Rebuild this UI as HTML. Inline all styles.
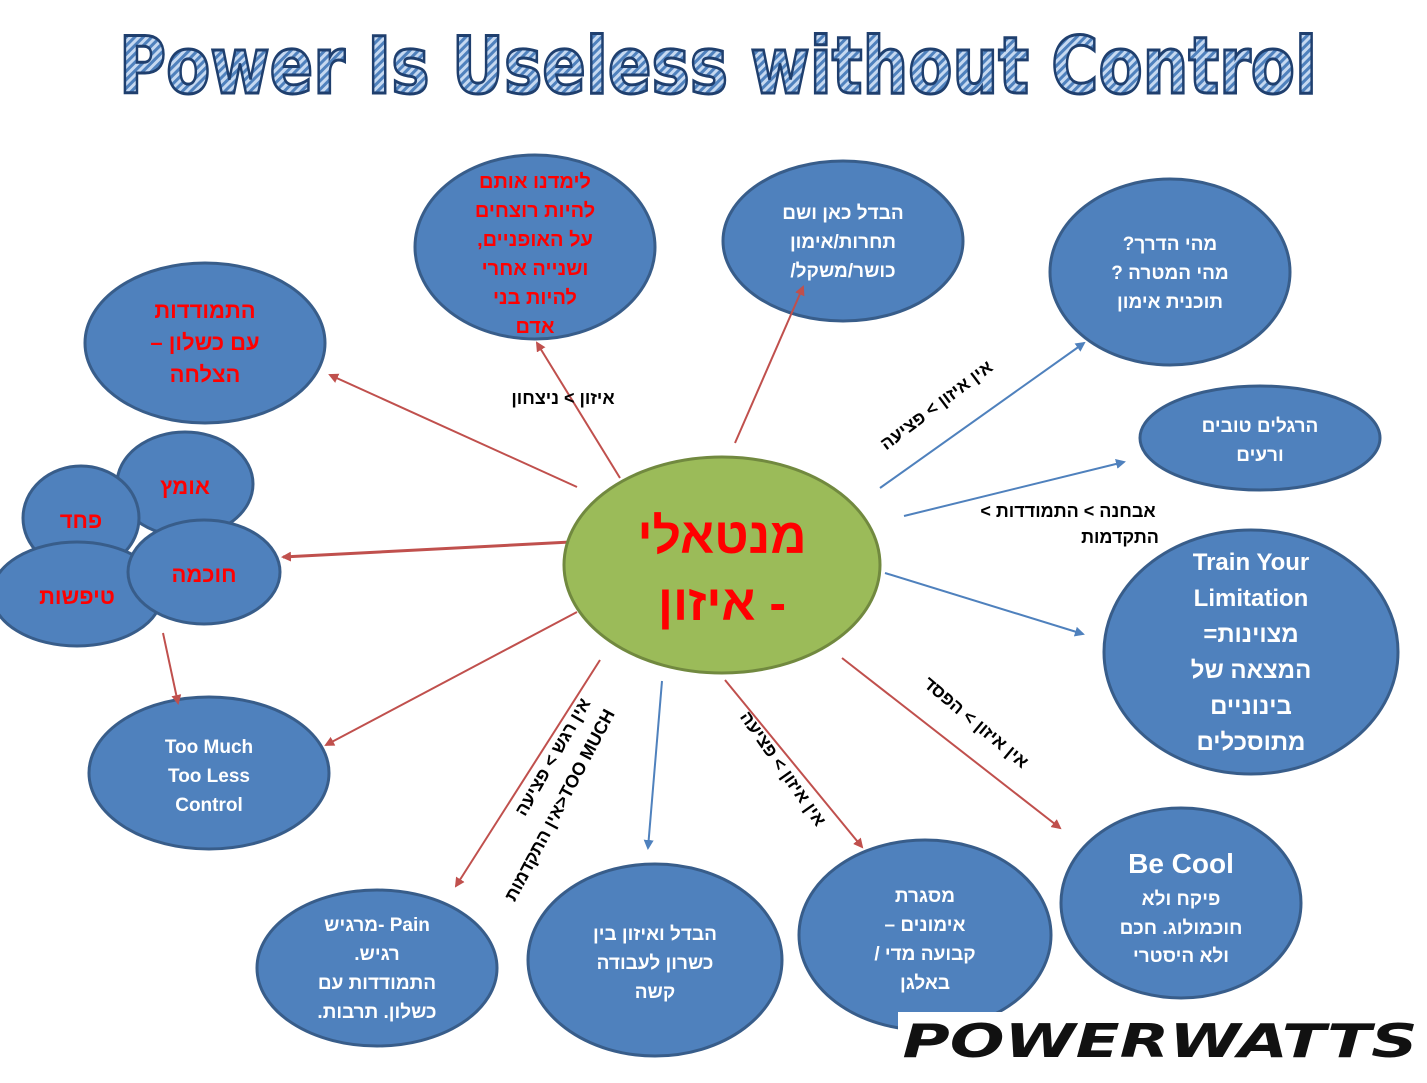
<!DOCTYPE html>
<html><head><meta charset="utf-8"><style>
html,body{margin:0;padding:0;background:#fff;}
svg{display:block;}
text{font-family:"Liberation Sans","DejaVu Sans",sans-serif;font-weight:bold;}
</style></head><body>
<svg width="1427" height="1083" viewBox="0 0 1427 1083" xmlns="http://www.w3.org/2000/svg">
<defs>
<pattern id="hatch" width="6" height="6" patternUnits="userSpaceOnUse" patternTransform="rotate(45)">
<rect width="6" height="6" fill="#c6d9f1"/><rect width="3" height="6" fill="#4f81bd"/>
</pattern>
<marker id="ar" markerWidth="10" markerHeight="10" refX="8" refY="5" orient="auto" markerUnits="userSpaceOnUse"><path d="M0,0 L10,5 L0,10 Z" fill="#c0504d"/></marker>
<marker id="ab" markerWidth="10" markerHeight="10" refX="8" refY="5" orient="auto" markerUnits="userSpaceOnUse"><path d="M0,0 L10,5 L0,10 Z" fill="#4f81bd"/></marker>
</defs>
<text x="718" y="93" text-anchor="middle" font-size="78" fill="url(#hatch)" stroke="#1f3f6e" stroke-width="3" style="font-family:'DejaVu Sans',sans-serif" textLength="1198" lengthAdjust="spacingAndGlyphs">Power Is Useless without Control</text>

<g fill="#4f81bd" stroke="#385d8a" stroke-width="3">
<ellipse cx="535" cy="247" rx="120" ry="92"/>
<ellipse cx="843" cy="241" rx="120" ry="80"/>
<ellipse cx="1170" cy="272" rx="120" ry="93"/>
<ellipse cx="1260" cy="438" rx="120" ry="52"/>
<ellipse cx="1251" cy="652" rx="147" ry="122"/>
<ellipse cx="1181" cy="903" rx="120" ry="95"/>
<ellipse cx="925" cy="935" rx="126" ry="95"/>
<ellipse cx="655" cy="960" rx="127" ry="96"/>
<ellipse cx="377" cy="968" rx="120" ry="78"/>
<ellipse cx="209" cy="773" rx="120" ry="76"/>
<ellipse cx="205" cy="343" rx="120" ry="80"/>
<ellipse cx="185" cy="484" rx="68" ry="52"/>
<ellipse cx="81" cy="518" rx="58" ry="52"/>
<ellipse cx="77" cy="594" rx="85" ry="52"/>
<ellipse cx="204" cy="572" rx="76" ry="52"/>
</g>

<g stroke="#c0504d" stroke-width="2" fill="none">
<line x1="577" y1="487" x2="330" y2="375" marker-end="url(#ar)"/>
<line x1="620" y1="478" x2="537" y2="343" marker-end="url(#ar)"/>
<line x1="735" y1="443" x2="803" y2="287" marker-end="url(#ar)"/>
<line x1="590" y1="541" x2="283" y2="557" stroke-width="3" marker-end="url(#ar)"/>
<line x1="577" y1="612" x2="326" y2="745" marker-end="url(#ar)"/>
<line x1="600" y1="660" x2="456" y2="886" marker-end="url(#ar)"/>
<line x1="725" y1="680" x2="862" y2="847" marker-end="url(#ar)"/>
<line x1="842" y1="658" x2="1060" y2="828" marker-end="url(#ar)"/>
<line x1="163" y1="633" x2="178" y2="703" marker-end="url(#ar)"/>
</g>
<g stroke="#4f81bd" stroke-width="2" fill="none">
<line x1="880" y1="488" x2="1084" y2="343" marker-end="url(#ab)"/>
<line x1="904" y1="516" x2="1124" y2="462" marker-end="url(#ab)"/>
<line x1="885" y1="573" x2="1083" y2="634" marker-end="url(#ab)"/>
<line x1="662" y1="681" x2="648" y2="848" marker-end="url(#ab)"/>
</g>

<ellipse cx="722" cy="565" rx="158" ry="108" fill="#9bbb59" stroke="#71893f" stroke-width="3"/>
<g direction="rtl">
<text x="722" y="553" text-anchor="middle" font-size="50" fill="#ff0000">מנטאלי</text>
<text x="722" y="620" text-anchor="middle" font-size="50" fill="#ff0000">- איזון</text>

<g font-size="20" fill="#ff0000" text-anchor="middle">
<text x="535" y="188">לימדנו אותם</text>
<text x="535" y="217">להיות רוצחים</text>
<text x="535" y="246">על האופניים,</text>
<text x="535" y="275">ושנייה אחרי</text>
<text x="535" y="304">להיות בני</text>
<text x="535" y="333">אדם</text>
<text x="205" y="318" font-size="22">התמודדות</text>
<text x="205" y="350" font-size="22">עם כשלון –</text>
<text x="205" y="382" font-size="22">הצלחה</text>
<text x="185" y="494" font-size="22">אומץ</text>
<text x="81" y="528" font-size="22">פחד</text>
<text x="77" y="604" font-size="22">טיפשות</text>
<text x="204" y="582" font-size="22">חוכמה</text>
</g>

<g font-size="19" fill="#fff" text-anchor="middle">
<text x="843" y="219">הבדל כאן ושם</text>
<text x="843" y="248">תחרות/אימון</text>
<text x="843" y="277">כושר/משקל/</text>
<text x="1170" y="250">מהי הדרך?</text>
<text x="1170" y="279">מהי המטרה ?</text>
<text x="1170" y="308">תוכנית אימון</text>
<text x="1260" y="432">הרגלים טובים</text>
<text x="1260" y="461">ורעים</text>
<g font-size="24">
<text x="1251" y="570" direction="ltr">Train Your</text>
<text x="1251" y="606" direction="ltr">Limitation</text>
<text x="1251" y="642">מצוינות=</text>
<text x="1251" y="678">המצאה של</text>
<text x="1251" y="714">בינוניים</text>
<text x="1251" y="750">מתוסכלים</text>
</g>
<text x="1181" y="873" font-size="28" direction="ltr">Be Cool</text>
<text x="1181" y="905">פיקח ולא</text>
<text x="1181" y="934">חוכמולוג. חכם</text>
<text x="1181" y="962">ולא היסטרי</text>
<text x="925" y="902">מסגרת</text>
<text x="925" y="931">אימונים –</text>
<text x="925" y="960">קבועה מדי /</text>
<text x="925" y="989">באלגן</text>
<text x="655" y="940">הבדל ואיזון בין</text>
<text x="655" y="969">כשרון לעבודה</text>
<text x="655" y="998">קשה</text>
<text x="377" y="931">Pain -מרגיש</text>
<text x="377" y="960">רגיש.</text>
<text x="377" y="989">התמודדות עם</text>
<text x="377" y="1018">כשלון. תרבות.</text>
<text x="209" y="753" direction="ltr">Too Much</text>
<text x="209" y="782" direction="ltr">Too Less</text>
<text x="209" y="811" direction="ltr">Control</text>
</g>

<g font-size="18" fill="#000">
<text x="563" y="404" text-anchor="middle">איזון &gt; ניצחון</text>
<text x="1068" y="517" text-anchor="middle">אבחנה &gt; התמודדות &gt;</text>
<text x="1120" y="543" text-anchor="middle">התקדמות</text>
<text transform="translate(940,410) rotate(-37)" text-anchor="middle">אין איזון &gt; פציעה</text>
<text transform="translate(972,727) rotate(40)" text-anchor="middle">אין איזון &gt; הפסד</text>
<text transform="translate(778,772) rotate(55)" text-anchor="middle">אין איזון &gt; פציעה</text>
<text transform="translate(558,760) rotate(-60)" text-anchor="middle">אין רגש &gt; פציעה</text>
<text transform="translate(565,808) rotate(-62)" text-anchor="middle">TOO MUCH&lt;אין התקדמות</text>
</g>
</g>

<rect x="898" y="1012" width="529" height="71" fill="#fff"/>
<text x="1160" y="1057" text-anchor="middle" font-size="46" font-style="italic" fill="#111" style="font-family:'DejaVu Sans',sans-serif" textLength="515" lengthAdjust="spacingAndGlyphs">POWERWATTS</text>
</svg>
</body></html>
